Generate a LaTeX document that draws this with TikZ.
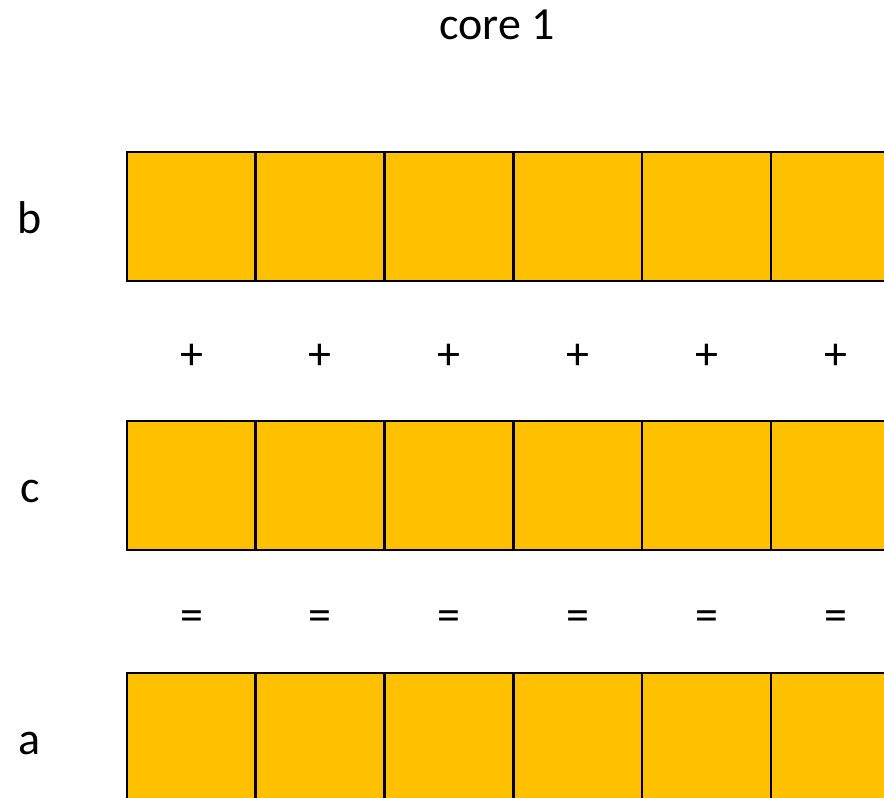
\documentclass[tikz,border=0pt]{standalone}
\usepackage{fontspec}
\setmainfont{Carlito}
\usepackage{xcolor}
\usepackage{tikz}

\definecolor{cellgold}{RGB}{255,192,0}

\begin{document}
\begin{tikzpicture}[x=1pt,y=-1pt,
  cell/.style={draw=black,fill=cellgold,line width=2.5pt,minimum size=129pt,inner sep=0pt},
  txt/.style={font=\fontsize{46}{55}\selectfont,inner sep=0pt}]
  \useasboundingbox (0,0) rectangle (884,798);
  \node[txt,anchor=base] (title) at (497,39) {core 1};
  % three vectors, one row of cells each
  \foreach \r/\y in {b/216.5,c/485.5,a/737.5} {
    \node[txt,anchor=base] (\r) at (30,\y+16.5) {\r};
    \foreach \i in {1,...,6}
      \node[cell] (\r\i) at ({191.4+(\i-1)*128.8},\y) {};
  }
  \foreach \i in {1,...,6} {
    \node[txt] (plus\i) at ({191.6+(\i-1)*128.8},356.5) {+};
    \node[txt] (eq\i) at ({191.6+(\i-1)*128.8},621) {=};
  }
\end{tikzpicture}
\end{document}
